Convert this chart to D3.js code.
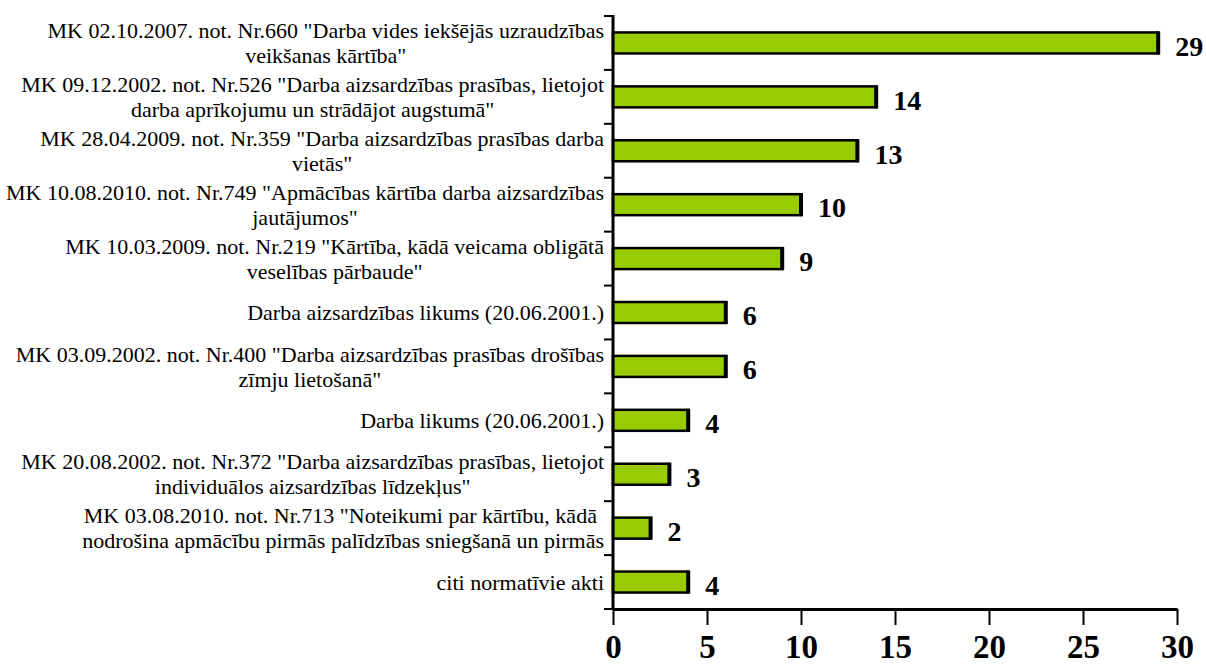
<!DOCTYPE html>
<html>
<head>
  <script src="https://cdnjs.cloudflare.com/ajax/libs/d3/7.8.5/d3.min.js"></script>
  <style>
    body { margin: 0; background: #fff; }
    text { font-family: "Liberation Serif", "Times New Roman", serif; fill: #000; }
    .cat { font-size: 22px; }
    .val { font-size: 28px; font-weight: bold; }
    .xtick { font-size: 33px; font-weight: bold; }
  </style>
</head>
<body>
<div id="chart"></div>
<script>
  // categories (top to bottom), line breaks as in the original labels
  var categories = [
    "MK 02.10.2007. not. Nr.660 \"Darba vides iekšējās uzraudzības\nveikšanas kārtība\"",
    "MK 09.12.2002. not. Nr.526 \"Darba aizsardzības prasības, lietojot\ndarba aprīkojumu un strādājot augstumā\"",
    "MK 28.04.2009. not. Nr.359 \"Darba aizsardzības prasības darba\nvietās\"",
    "MK 10.08.2010. not. Nr.749 \"Apmācības kārtība darba aizsardzības\njautājumos\"",
    "MK 10.03.2009. not. Nr.219 \"Kārtība, kādā veicama obligātā\nveselības pārbaude\"",
    "Darba aizsardzības likums (20.06.2001.)",
    "MK 03.09.2002. not. Nr.400 \"Darba aizsardzības prasības drošības\nzīmju lietošanā\"",
    "Darba likums (20.06.2001.)",
    "MK 20.08.2002. not. Nr.372 \"Darba aizsardzības prasības, lietojot\nindividuālos aizsardzības līdzekļus\"",
    "MK 03.08.2010. not. Nr.713 \"Noteikumi par kārtību, kādā \nnodrošina apmācību pirmās palīdzības sniegšanā un pirmās",
    "citi normatīvie akti"
  ];
  var values = [29, 14, 13, 10, 9, 6, 6, 4, 3, 2, 4];
  var xTicks = [0, 5, 10, 15, 20, 25, 30];

  var width = 1206, height = 664;
  var margin = { left: 613, right: 1177, top: 16, bottom: 609 };

  var svg = d3.select("#chart").append("svg")
    .attr("width", width)
    .attr("height", height);

  var x = d3.scaleLinear().domain([0, 30]).range([margin.left, margin.right]);
  var y = d3.scaleBand().domain(d3.range(categories.length)).range([margin.top, margin.bottom]);

  var bandH = y.bandwidth();
  var barH = 21;

  // bars
  var g = svg.selectAll(".bar")
    .data(values)
    .enter().append("g")
    .attr("class", "bar");

  g.append("rect")
    .attr("x", x(0))
    .attr("y", function(d, i) { return y(i) + bandH / 2 - barH / 2; })
    .attr("width", function(d) { return x(d) - x(0); })
    .attr("height", barH)
    .attr("fill", "#99cc00")
    .attr("stroke", "#000")
    .attr("stroke-width", 2.5);

  // dark end of the bar (shadow)
  g.append("rect")
    .attr("x", function(d) { return x(d) - 2; })
    .attr("y", function(d, i) { return y(i) + bandH / 2 - barH / 2 - 1; })
    .attr("width", 4)
    .attr("height", barH + 2)
    .attr("fill", "#000");

  g.append("text")
    .attr("class", "val")
    .attr("x", function(d) { return x(d) + 17; })
    .attr("y", function(d, i) { return y(i) + bandH / 2 + 3; })
    .attr("dy", "0.35em")
    .text(function(d) { return d; });

  // category labels: block right aligned, lines centered within block
  var labelRight = 604;
  var lineH = 25;
  var labels = svg.selectAll(".cat")
    .data(categories)
    .enter().append("text")
    .attr("class", "cat")
    .attr("text-anchor", "middle");

  labels.each(function(d, i) {
    var lines = d.split("\n");
    var t = d3.select(this);
    var cy = y(i) + bandH / 2;
    var spans = lines.map(function(l, k) {
      return t.append("tspan")
        .attr("x", 0)
        .attr("y", cy + (k - (lines.length - 1) / 2) * lineH)
        .attr("dy", "0.35em")
        .text(l);
    });
    var w = d3.max(spans, function(s) { return s.node().getComputedTextLength(); });
    spans.forEach(function(s) { s.attr("x", labelRight - w / 2); });
  });

  // y axis line and ticks at category boundaries
  svg.append("line")
    .attr("x1", margin.left).attr("x2", margin.left)
    .attr("y1", margin.top - 1).attr("y2", margin.bottom)
    .attr("stroke", "#000").attr("stroke-width", 3);

  svg.selectAll(".ytick")
    .data(d3.range(categories.length + 1))
    .enter().append("line")
    .attr("x1", margin.left - 9).attr("x2", margin.left)
    .attr("y1", function(i) { return margin.top + i * y.step(); })
    .attr("y2", function(i) { return margin.top + i * y.step(); })
    .attr("stroke", "#000").attr("stroke-width", 2);

  // x axis
  var xAxis = d3.axisBottom(x).tickValues(xTicks).tickSize(16).tickSizeOuter(0).tickPadding(10);
  var ax = svg.append("g")
    .attr("transform", "translate(0," + margin.bottom + ")")
    .call(xAxis);
  ax.attr("font-family", null).attr("font-size", null);
  ax.select(".domain").attr("stroke", "#000").attr("stroke-width", 3);
  ax.selectAll(".tick line").attr("stroke", "#000").attr("stroke-width", 2);
  ax.selectAll(".tick text").attr("class", "xtick");
</script>
</body>
</html>
